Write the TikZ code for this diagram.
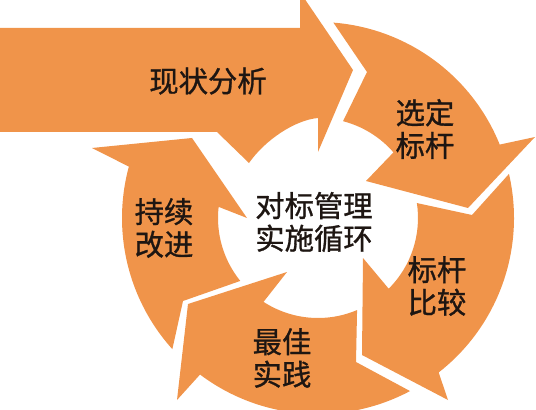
\documentclass[tikz,border=0pt]{standalone}
\usepackage{fontspec}
\usepackage{tikz}
\newfontfamily\cjk[FakeBold=1]{Noto Sans CJK SC}
\definecolor{orng}{RGB}{240,148,74}
\definecolor{txt}{RGB}{30,22,18}

\begin{document}
\begin{tikzpicture}[x=0.75pt, y=-0.75pt]
	\tikzstyle{every node} = [font=\cjk\fontsize{22}{24.5}\selectfont, text=txt, align=center, inner sep=0pt]
	\tikzstyle{band} = [fill=orng]
	\useasboundingbox (0,0) rectangle (536,410);
	\clip (0,0) rectangle (536,410);
	% straight arrow
	\fill [band] (-5,28) -- (300,28) -- (300,-8) -- (353,70) -- (318,152) -- (318,118)
		.. controls (295,120) and (265,140) .. (249,163) -- (217,132) -- (-5,132) -- cycle;
	% ring, around the centre
	\begin{scope}[shift={(318,218)}, yscale=-1]
		\fill [band] (85.5:196) -- (49,146) -- (75.5:100) arc[start angle=75.5, end angle=41, radius=100]
			-- (48,37) -- (150,10) -- (217,81) -- (22:196) arc[start angle=22, end angle=85.5, radius=196] -- cycle;
		\fill [band] (13:196) -- (154,3) -- (8.6:100) arc[start angle=8.6, end angle=-45, radius=100]
			-- (45,-40) -- (44,-137) -- (130,-182) -- (-52:196) arc[start angle=-52, end angle=13, radius=196] -- cycle;
		\fill [band] (-62:196) -- (38,-144) -- (-67:100) arc[start angle=-67, end angle=-123, radius=100]
			-- (-31,-54) -- (-130,-86) -- (-141,-182) -- (-127:196) arc[start angle=-127, end angle=-62, radius=196] -- cycle;
		\fill [band] (-138:196) -- (-135,-83) -- (-141:100) arc[start angle=-141, end angle=-186.4, radius=100]
			-- (-71,0) -- (-126,80) -- (-226,70) -- (-195.2:196) arc[start angle=-195.2, end angle=-138, radius=196] -- cycle;
	\end{scope}
	\node (1) at (208,81) {现状分析};
	\node (2) at (425,129) {选定\\标杆};
	\node (3) at (437,286) {标杆\\比较};
	\node (4) at (282,358) {最佳\\实践};
	\node (5) at (164,228) {持续\\改进};
	\node (6) at (314,222) {对标管理\\实施循环};
\end{tikzpicture}
\end{document}
